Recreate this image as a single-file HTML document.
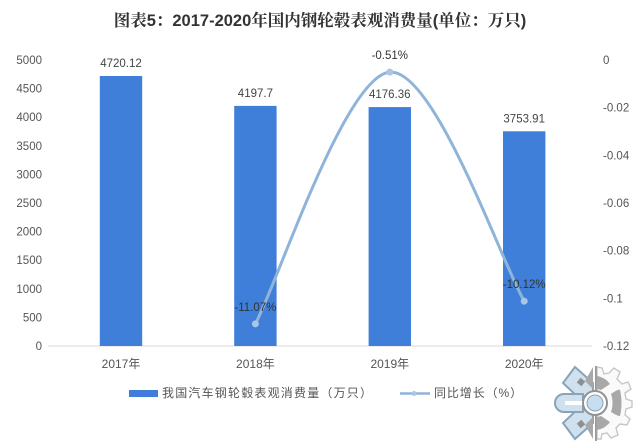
<!DOCTYPE html>
<html>
<head>
<meta charset="utf-8">
<style>
html,body{margin:0;padding:0;background:#fff;}
#wrap{position:relative;width:639px;height:447px;overflow:hidden;background:#fff;}
svg{position:absolute;left:0;top:0;}
text{font-family:"Liberation Sans","Noto Sans CJK SC",sans-serif;}
</style>
</head>
<body>
<div id="wrap">
<svg id="chart" width="639" height="447" viewBox="0 0 639 447">
  <text x="320" y="26" text-anchor="middle" font-size="16.5" font-weight="700" fill="#333" style='font-family:"Liberation Sans","Noto Serif CJK SC",serif'>图表5：2017-2020年国内钢轮毂表观消费量(单位：万只)</text>
  <line x1="48" y1="346" x2="592" y2="346" stroke="#d9d9d9" stroke-width="1"/>
  <g id="leftTicks"></g>
  <g id="rightTicks"></g>
  <g id="bars"></g>
  <g id="xTicks"></g>
  <path id="growthLine" fill="none" stroke="#8fb4d9" stroke-width="3" stroke-linecap="round"/>
  <g id="points"></g>
  <g id="labels"></g>

  <g>
    <rect x="129" y="390" width="29" height="7" fill="#3f7fd9"/>
    <text x="162" y="397" font-size="12" letter-spacing="1.2" fill="#555">我国汽车钢轮毂表观消费量（万只）</text>
    <line x1="400" y1="393.5" x2="430" y2="393.5" stroke="#8fb4d9" stroke-width="2.5"/>
    <circle cx="414" cy="393.5" r="2.5" fill="#a9c6e6"/>
    <text x="434" y="397" font-size="12" letter-spacing="0.9" fill="#555">同比增长（%）</text>
  </g>

  <g transform="translate(595,403)">
    <path d="M2 -36 L7 -35 L9 -29 L14 -30 L19 -35 L25 -31 L22 -24 L27 -19 L33 -21 L36 -14 L30 -10 L31 -4 L37 -2 L37 4 L31 6 L30 12 L35 16 L32 22 L25 21 L21 25 L23 32 L16 35 L12 30 L7 31 L6 36 L2 36 Z" fill="#fafafa" stroke="#c6c6c6" stroke-width="1.4"/>
    <path d="M16 -9 C22 -13 24 -14 25 -13 C27 -5 27 5 25 13 C22 13 18 10 16 9 C18 3 18 -3 16 -9 Z" fill="#a8a8a8"/>
    <path d="M2 -27 C8 -26 12 -23 15 -19 L6 -13 L2 -14 Z" fill="#a8a8a8"/>
    <path d="M2 27 C8 26 12 23 15 19 L6 13 L2 14 Z" fill="#a8a8a8"/>
    <path d="M-20 -36 L-2 -20 L-2 -12 L-15 -4 L-32 -20 Z" fill="#cfe1ef" stroke="#8aa3b5" stroke-width="2"/>
    <path d="M-20 36 L-2 20 L-2 12 L-15 4 L-32 20 Z" fill="#cfe1ef" stroke="#8aa3b5" stroke-width="2"/>
    <rect x="-17" y="-24" width="6" height="6" transform="rotate(40 -14 -21)" fill="#8f8f8f"/>
    <rect x="-17" y="18" width="6" height="6" transform="rotate(-40 -14 21)" fill="#8f8f8f"/>
    <path d="M-2 -36 L-2 -14 L-10 -22 Z" fill="#a8a8a8"/>
    <path d="M-2 36 L-2 14 L-10 22 Z" fill="#a8a8a8"/>
    <path d="M-12 -9 H-31 A9 9 0 0 0 -31 9 H-12 Z" fill="#cfe1ef" stroke="#8aa3b5" stroke-width="2"/>
    <rect x="-30" y="-2" width="18" height="4" fill="#fff"/>
    <rect x="0" y="-37" width="1.800" height="75" fill="#999"/>
    <circle cx="0" cy="0" r="12" fill="#fff" stroke="#929292" stroke-width="2"/>
    <circle cx="0" cy="0" r="8" fill="#c6def0" stroke="#8aa3b5" stroke-width="1"/>
  </g>
</svg>
</div>
<script>
var categories = ["2017年", "2018年", "2019年", "2020年"];
var consumption = [4720.12, 4197.7, 4176.36, 3753.91];
var consumptionLabels = ["4720.12", "4197.7", "4176.36", "3753.91"];
var growthYears = ["2018年", "2019年", "2020年"];
var growth = [-0.1107, -0.0051, -0.1012];
var growthLabels = ["-11.07%", "-0.51%", "-10.12%"];
var leftTicks = [0, 500, 1000, 1500, 2000, 2500, 3000, 3500, 4000, 4500, 5000];
var rightTicks = [0, -0.02, -0.04, -0.06, -0.08, -0.1, -0.12];

var NS = "http://www.w3.org/2000/svg";
function mk(parent, tag, attrs, txt) {
  var e = document.createElementNS(NS, tag);
  for (var k in attrs) e.setAttribute(k, attrs[k]);
  if (txt !== undefined) e.textContent = txt;
  document.getElementById(parent).appendChild(e);
  return e;
}
function xPos(cat) { return 121 + 134.4 * categories.indexOf(cat); }
function yLeft(v) { return 346 - v / 5000 * 286; }
function yRight(v) { return 60 + (-v) / 0.12 * 286; }

leftTicks.forEach(function (t) {
  var el = mk("leftTicks", "text", {x: 42, y: yLeft(t) + 4, "text-anchor": "end", "font-size": 11.5, fill: "#555"}, String(t));
  
  
});
rightTicks.forEach(function (t) {
  var el = mk("rightTicks", "text", {x: 603, y: yRight(t) + 4, "font-size": 11.5, fill: "#555"}, String(t));
  
  
});
categories.forEach(function (c, i) {
  var cx = xPos(c);
  var bar = mk("bars", "rect", {x: cx - 21.2, y: yLeft(consumption[i]), width: 42.4, height: 346 - yLeft(consumption[i]), fill: "#3f7fd9"});
  
  
  var tick = mk("xTicks", "text", {x: cx, y: 368, "text-anchor": "middle", "font-size": 12, fill: "#555"}, c);
  
  
  var lab = mk("labels", "text", {x: cx, y: yLeft(consumption[i]) - 9, "text-anchor": "middle", "font-size": 11.5, fill: "#444"}, consumptionLabels[i]);
  
  
});

var pts = growth.map(function (g, i) { return [xPos(growthYears[i]), yRight(g)]; });
var d = "M" + pts[0][0] + " " + pts[0][1];
for (var i = 0; i < pts.length - 1; i++) {
  var p0 = pts[Math.max(i - 1, 0)], p1 = pts[i], p2 = pts[i + 1], p3 = pts[Math.min(i + 2, pts.length - 1)];
  var c1x = p1[0] + (p2[0] - p0[0]) / 6, c1y = p1[1] + (p2[1] - p0[1]) / 6;
  var c2x = p2[0] - (p3[0] - p1[0]) / 6, c2y = p2[1] - (p3[1] - p1[1]) / 6;
  d += " C" + c1x + " " + c1y + " " + c2x + " " + c2y + " " + p2[0] + " " + p2[1];
}
document.getElementById("growthLine").setAttribute("d", d);

pts.forEach(function (p, i) {
  var m = mk("points", "circle", {cx: p[0], cy: p[1], r: 3.5, fill: "#a9c6e6"});
  
  
  var l = mk("labels", "text", {x: p[0], y: p[1] - 13, "text-anchor": "middle", "font-size": 11.5, fill: "#333"}, growthLabels[i]);
  
  
});
</script>
</body>
</html>
